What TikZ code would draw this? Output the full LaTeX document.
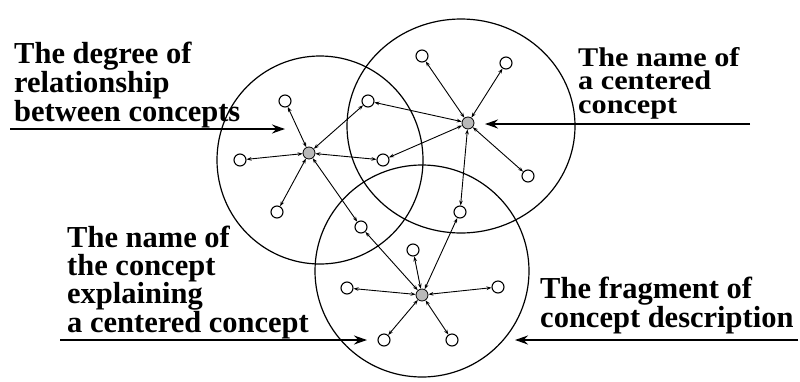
\documentclass[tikz,border=0pt]{standalone}
\usepackage{fontspec}
\setmainfont{Liberation Serif}
\newfontfamily\widefont[FakeStretch=1.12]{Liberation Serif}
\usetikzlibrary{arrows.meta}
\begin{document}
\begin{tikzpicture}[x=1pt,y=-1pt,
  sat/.style={circle,draw,line width=1.1pt,minimum size=12pt,inner sep=0pt,fill=white},
  hub/.style={circle,draw,line width=0.8pt,fill=gray!55,minimum size=12pt,inner sep=0pt},
  link/.style={{Stealth[length=5pt,width=3.6pt]}-{Stealth[length=5pt,width=3.6pt]},line width=0.9pt},
  zone/.style={line width=1.2pt},
  feed/.style={-{Stealth[length=13pt,width=9pt]},line width=1.8pt},
  lbl/.style={font=\bfseries\fontsize{30.5}{27.5}\selectfont,align=left,inner sep=0pt,anchor=north west}]
\useasboundingbox (0,0) rectangle (800,381);
% zones
\draw[zone] (320,160) ellipse[x radius=103pt,y radius=104pt];
\draw[zone] (461,126) ellipse[x radius=114pt,y radius=107pt];
\draw[zone] (422,271) ellipse[x radius=107pt,y radius=106pt];
% hubs
\node[hub] (hA) at (309,153) {};
\node[hub] (hB) at (468,123) {};
\node[hub] (hC) at (422,295) {};
% satellites
\node[sat] (s1) at (285,101) {};
\node[sat] (s2) at (240,160) {};
\node[sat] (s3) at (277,212) {};
\node[sat] (s4) at (368,101) {};
\node[sat] (s5) at (383,160) {};
\node[sat] (s6) at (361,227) {};
\node[sat] (b1) at (422,56) {};
\node[sat] (b2) at (506,63) {};
\node[sat] (b3) at (528,176) {};
\node[sat] (b4) at (460,212) {};
\node[sat] (c1) at (413,250) {};
\node[sat] (c2) at (347,288) {};
\node[sat] (c3) at (498,287) {};
\node[sat] (c4) at (384,340) {};
\node[sat] (c5) at (452,340) {};
% links
\foreach \t in {s1,s2,s3,s4,s5,s6} \draw[link] (hA) -- (\t);
\foreach \t in {s4,s5,b1,b2,b3,b4} \draw[link] (hB) -- (\t);
\foreach \t in {b4,s6,c1,c2,c3,c4,c5} \draw[link] (hC) -- (\t);
% feeds
\coordinate (fa0) at (10,129); \coordinate (fa1) at (285,129);
\coordinate (fb0) at (750,124); \coordinate (fb1) at (485,124);
\coordinate (fc0) at (60,340); \coordinate (fc1) at (367,340);
\coordinate (fd0) at (798,340); \coordinate (fd1) at (515,340);
\draw[feed] (fa0) -- (fa1);
\draw[feed] (fb0) -- (fb1);
\draw[feed] (fc0) -- (fc1);
\draw[feed] (fd0) -- (fd1);
% labels
\node[lbl] (L1) at (14,42) {The degree of\\relationship\\between concepts};
\node[lbl,font=\widefont\bfseries\fontsize{27}{23.5}\selectfont] (L2) at (578,47) {The name of\\a centered\\concept};
\node[lbl] (L3) at (67,226) {The name of\\the concept\\explaining\\a centered concept};
\node[lbl] (L4) at (540,277) {The fragment of\\concept description};
\end{tikzpicture}
\end{document}
